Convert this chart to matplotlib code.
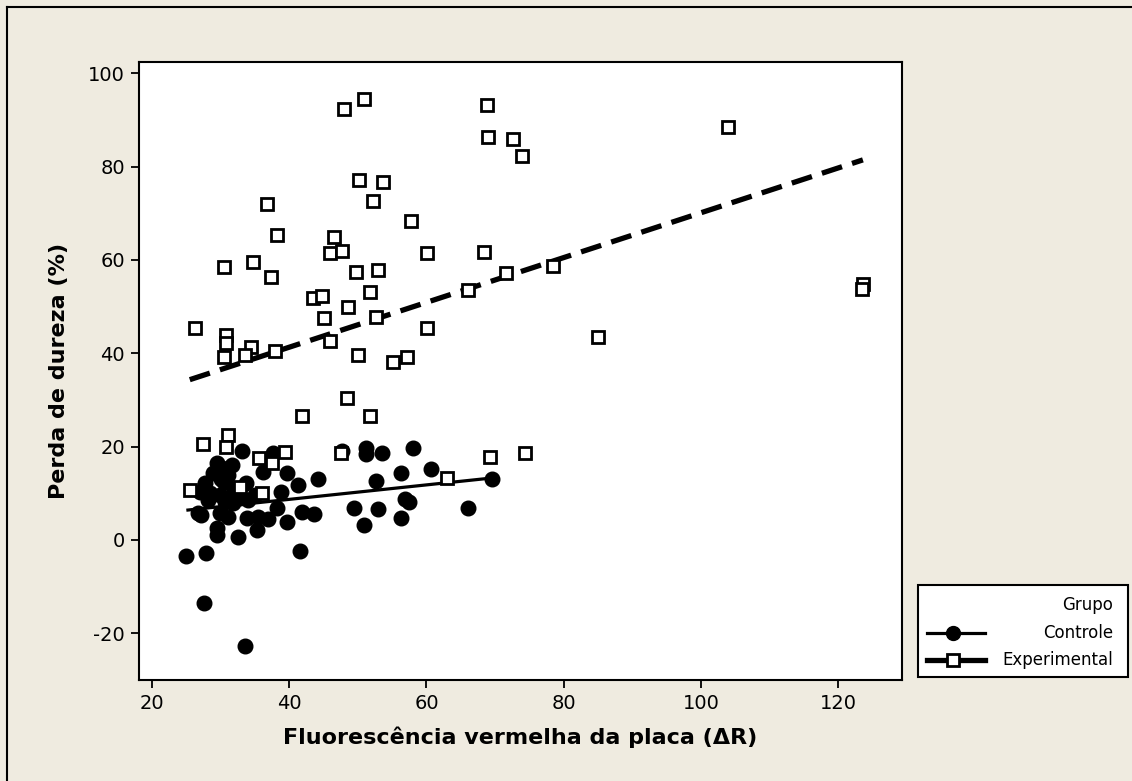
import numpy as np
import matplotlib
matplotlib.use("Agg")
import matplotlib.pyplot as plt
from matplotlib.lines import Line2D
from matplotlib.patches import Rectangle

# ---------------- data ----------------
controle_x = [25.0, 27.9, 27.6, 33.6, 41.6,
              26.7, 27.2, 27.0, 27.7, 28.5, 28.9, 29.5, 29.9, 29.9, 29.5, 29.5,
              30.6, 31.1, 31.7, 31.8, 30.5, 31.0, 30.2, 32.5, 33.1, 33.7, 33.8,
              35.0, 35.3, 35.5, 36.2, 36.9, 37.6, 38.2, 38.8, 39.7, 39.7, 41.3,
              41.9, 43.6, 44.2, 47.7, 49.5, 50.9, 51.2, 51.2, 52.7, 52.9, 53.5,
              56.3, 56.3, 56.9, 57.5, 58.0, 60.7, 66.1, 69.6,
              32.0, 30.0, 31.5, 32.8, 34.0, 28.2]
controle_y = [-3.4, -2.8, -13.5, -22.7, -2.4,
              5.8, 5.4, 10.3, 12.2, 10.0, 14.4, 16.5, 9.6, 5.8, 2.6, 1.1,
              8.1, 4.9, 16.1, 7.9, 12.5, 14.0, 15.5, 0.6, 19.1, 12.2, 4.7,
              9.6, 2.1, 4.9, 14.6, 4.5, 18.6, 6.9, 10.3, 14.4, 3.9, 11.8,
              6.0, 5.6, 13.1, 19.1, 6.8, 3.2, 19.6, 18.4, 12.6, 6.6, 18.6,
              14.4, 4.7, 8.8, 8.1, 19.7, 15.2, 6.9, 13.1,
              11.0, 13.0, 9.5, 9.0, 8.5, 8.5]

experimental_x = [25.5, 26.3, 27.4, 30.5, 30.8, 30.8, 30.5, 31.1, 30.8, 34.7,
                  34.4, 33.6, 36.8, 37.3, 38.2, 37.9, 35.6, 37.5, 39.4, 36.0,
                  41.9, 43.5, 44.8, 45.1, 46.0, 46.5, 46.0, 47.7, 48.6, 49.7,
                  50.0, 51.8, 52.9, 52.7, 52.2, 50.2, 53.7, 48.0, 50.9, 57.8,
                  60.1, 60.1, 57.2, 55.1, 48.4, 51.8, 47.5, 68.8, 69.0, 72.6,
                  73.9, 104.0, 68.4, 71.6, 66.1, 78.5, 123.6, 123.4, 85.0, 69.3,
                  74.4, 63.0, 32.8]
experimental_y = [10.7, 45.4, 20.6, 58.5, 44.0, 42.3, 39.2, 22.5, 20.0, 59.6,
                  41.4, 39.6, 72.0, 56.4, 65.4, 40.5, 17.6, 16.5, 18.9, 10.1,
                  26.6, 51.9, 52.3, 47.6, 42.6, 64.9, 61.5, 61.9, 49.9, 57.4,
                  39.6, 53.1, 57.9, 47.8, 72.6, 77.1, 76.7, 92.4, 94.5, 68.4,
                  61.5, 45.4, 39.2, 38.1, 30.4, 26.6, 18.6, 93.2, 86.3, 85.9,
                  82.3, 88.5, 61.7, 57.2, 53.6, 58.7, 54.9, 53.8, 43.5, 17.8,
                  18.6, 13.3, 11.4]

# fitted lines (intercept, slope)
controle_fit = (2.5, 0.155)
experimental_fit = (22.1, 0.480)

x_ticks = [20, 40, 60, 80, 100, 120]
y_ticks = [-20, 0, 20, 40, 60, 80, 100]
x_label = "Fluorescência vermelha da placa (ΔR)"
y_label = "Perda de dureza (%)"
legend_title = "Grupo"
group_names = ["Controle", "Experimental"]

# ---------------- figure ----------------
BG = "#efebe0"
plt.rcParams['font.family'] = ['DejaVu Sans']
plt.rcParams['axes.unicode_minus'] = False
fig = plt.figure(figsize=(11.32, 7.81), dpi=100, facecolor=BG)
ax = fig.add_axes([139/1132, 1 - 680/781, (902-139)/1132, (680-62)/781])
ax.set_facecolor("white")

# regression lines
cx = np.array([min(controle_x), max(controle_x)])
ax.plot(cx, controle_fit[0] + controle_fit[1]*cx, color="black", lw=2.3,
        solid_capstyle="butt", zorder=2)
ex = np.array([min(experimental_x), max(experimental_x)])
ax.plot(ex, experimental_fit[0] + experimental_fit[1]*ex, color="black", lw=3.8,
        dashes=(4, 2), dash_capstyle="butt", zorder=2)

# points
ax.plot(controle_x, controle_y, linestyle="none", marker="o", ms=10.5,
        mfc="black", mec="black", zorder=3)
ax.plot(experimental_x, experimental_y, linestyle="none", marker="s", ms=9,
        mfc="white", mec="black", mew=2.0, zorder=4)

ax.set_xlim(18.1, 129.3)
ax.set_ylim(-30.0, 102.4)
ax.set_xticks(x_ticks)
ax.set_yticks(y_ticks)
ax.tick_params(direction="out", length=6, width=1.3, labelsize=14, pad=4,
               colors="black")
for s in ax.spines.values():
    s.set_linewidth(1.5)
    s.set_color("black")

ax.set_xlabel(x_label, fontsize=16, fontweight="bold", labelpad=10)
ax.set_ylabel(y_label, fontsize=16, fontweight="bold", labelpad=14)

# figure border lines (top and left)
fig.add_artist(Line2D([7/1132, 1], [1 - 7/781, 1 - 7/781], color="black",
                      lw=1.5, transform=fig.transFigure))
fig.add_artist(Line2D([7/1132, 7/1132], [0, 1 - 7/781], color="black",
                      lw=1.5, transform=fig.transFigure))

# legend (drawn manually in figure pixels)
def fx(px):
    return px / 1132

def fy(py):
    return 1 - py / 781

fig.add_artist(Rectangle((fx(918), fy(677)), fx(1128) - fx(918), fy(585) - fy(677),
                         facecolor="white", edgecolor="black", lw=1.5,
                         transform=fig.transFigure))
fig.text(fx(1113), fy(605), legend_title, ha="right", va="center", fontsize=12)
fig.text(fx(1113), fy(633), group_names[0], ha="right", va="center", fontsize=12)
fig.text(fx(1113), fy(660), group_names[1], ha="right", va="center", fontsize=12)
fig.add_artist(Line2D([fx(927), fx(985)], [fy(633), fy(633)], color="black", lw=2.3,
                      transform=fig.transFigure))
fig.add_artist(Line2D([fx(953)], [fy(633)], marker="o", ms=10, mfc="black",
                      mec="black", transform=fig.transFigure))
fig.add_artist(Line2D([fx(927), fx(985)], [fy(660), fy(660)], color="black", lw=3.8,
                      transform=fig.transFigure))
fig.add_artist(Line2D([fx(953)], [fy(660)], marker="s", ms=9, mfc="white",
                      mec="black", mew=2.0, transform=fig.transFigure))

fig.savefig("out.png", dpi=100, facecolor=BG)
